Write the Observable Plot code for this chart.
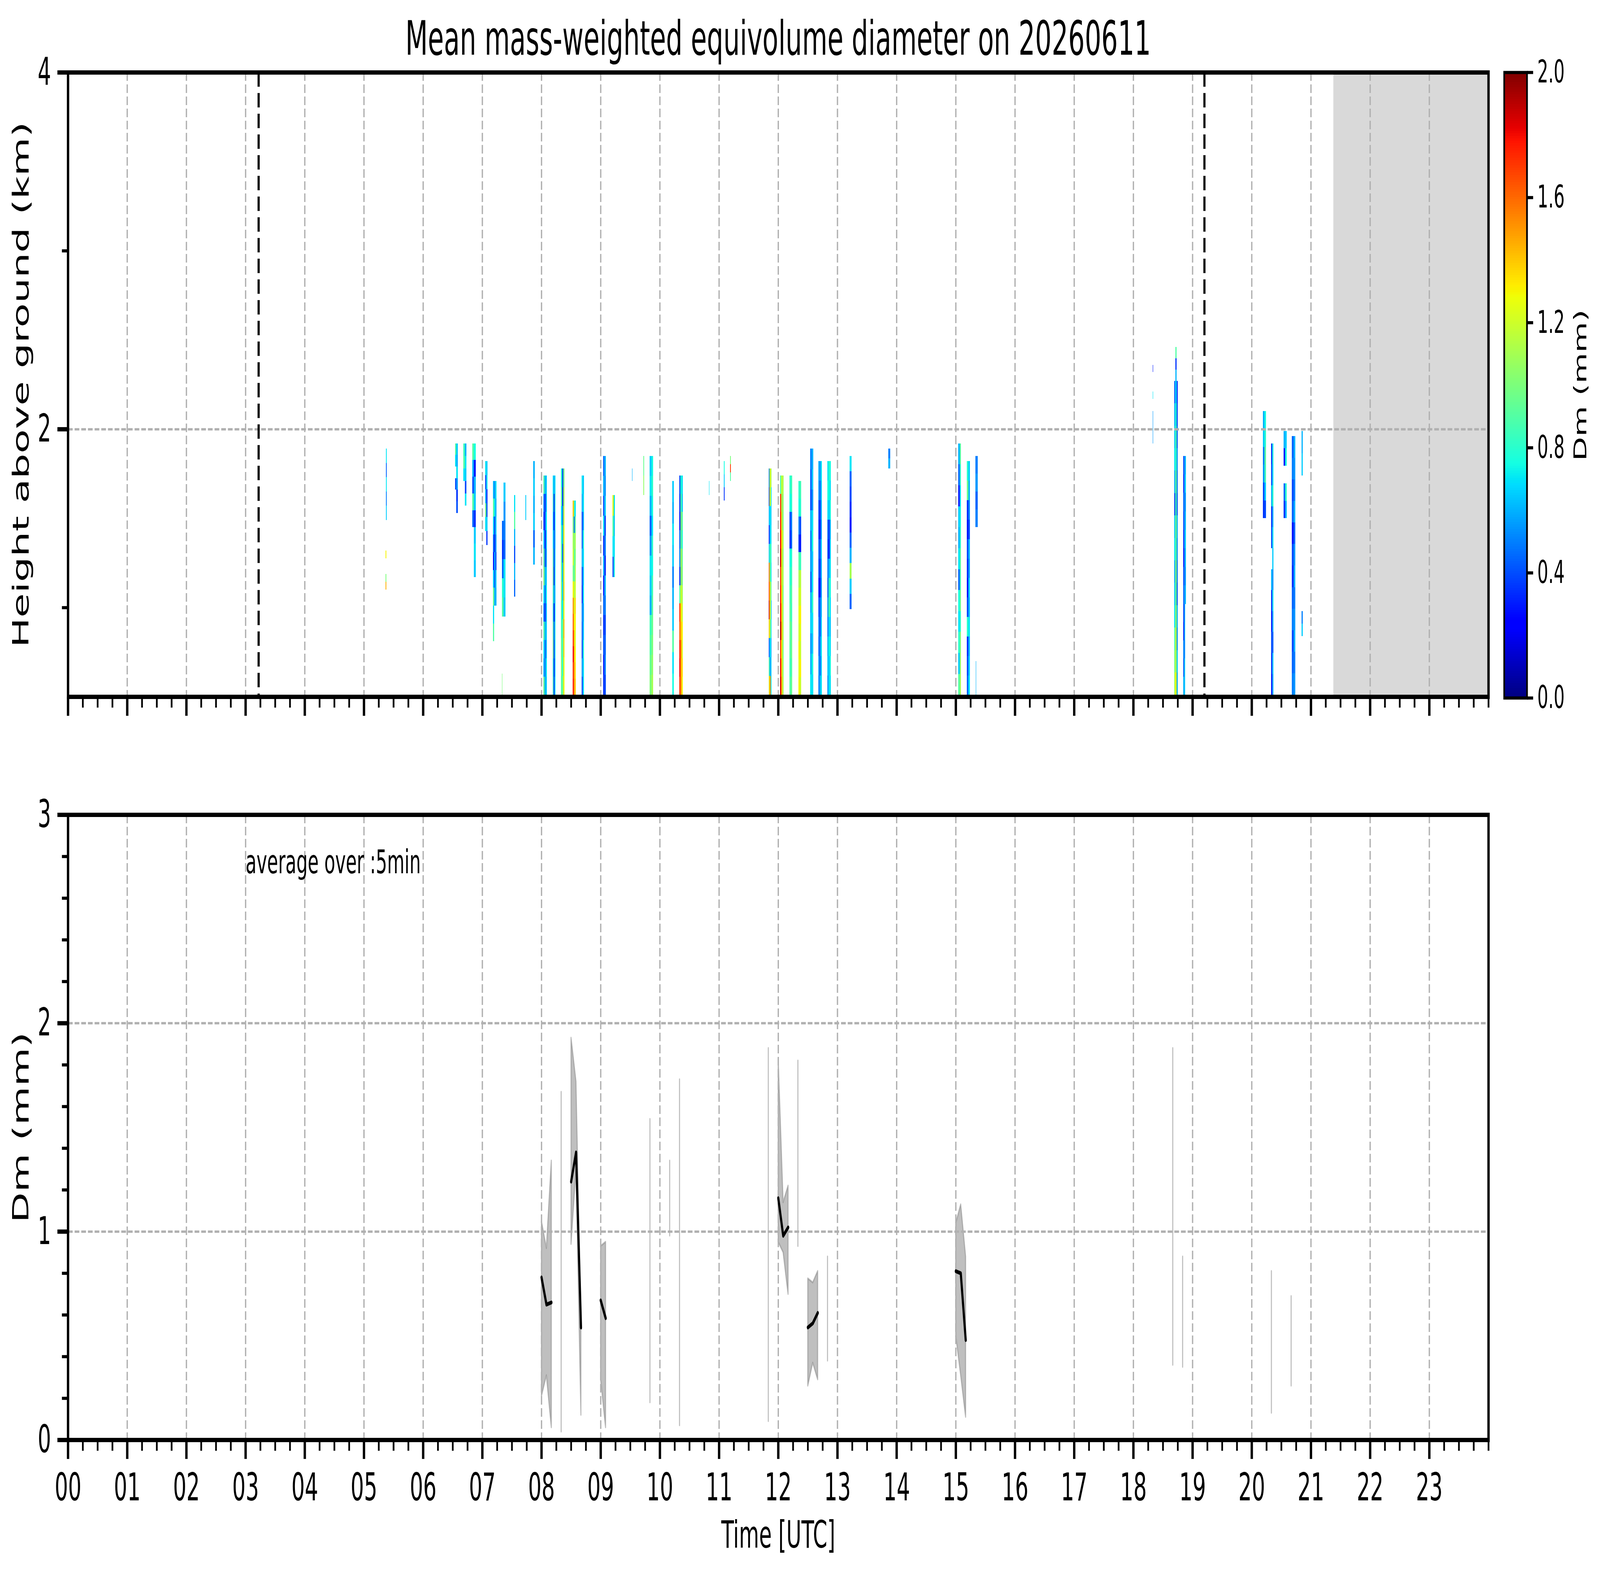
<!DOCTYPE html>
<html>
<head>
<meta charset="utf-8">
<script src="https://cdn.jsdelivr.net/npm/d3@7"></script>
<script src="https://cdn.jsdelivr.net/npm/@observablehq/plot@0.6"></script>
<style>
  html, body { margin: 0; padding: 0; background: #fff; overflow: hidden; }
  #wrap { position: relative; overflow: hidden; width: 7442px; height: 4031px; background: #fff; }
  #page { position: absolute; left: 0; top: 0; width: 7442px; height: 4031px; background: #fff; font-family: "DejaVu Sans", sans-serif; overflow: hidden; transform-origin: 0 0; }
  #page > .pane { position: absolute; }
  #title { position: absolute; left: 316px; width: 6607px; top: 38px; line-height: 121px; font-size: 121px; text-align: center; color: #000; white-space: nowrap; }
</style>
</head>
<body>
<div id="wrap">
<div id="page">
  <div id="title"></div>
</div>
</div>
<script>
// ---------------- DATA ----------------
const titleText = "Mean mass-weighted equivolume diameter on 20260611";
const hourTicks = d3.range(0, 24);                 // labelled hours 00..23
const hourLabels = hourTicks.map(h => String(h).padStart(2, "0"));
const heightTicks = [2, 4];
const heightMinor = [1, 3];
const dmTicks = [0, 1, 2, 3];
const cbarTicks = [0, 0.4, 0.8, 1.2, 1.6, 2.0];
const sunLines = [3.22, 19.2];                     // dashed black lines (UTC hours)
const noDataSpan = [21.38, 24];                    // grey shaded span (UTC hours)

// Radar strips: [start h, end h, bottom km, top km, columns of Dm values (top -> bottom)]
const strips = [
  [5.370, 5.385, 1.49, 1.89, [[0.70, 0.45, 0.70, 0.50, 0.65]]],
  [5.365, 5.380, 1.10, 1.32, [[1.30, null, null, 1.00, 1.45]]],
  [6.540, 6.585, 1.53, 1.92, [[0.90, 0.70, null, 0.40, null, null], [0.65, 0.60, 0.70, 0.55, 0.35, 0.40]]],
  [6.680, 6.730, 1.57, 1.92, [[0.85, 0.90, 0.70, null, null], [0.60, 0.70, 0.65, 0.40, 0.70]]],
  [6.830, 6.890, 1.17, 1.92, [[0.90, 0.60, 0.40, 0.90, 0.45, null, null, null], [0.75, 0.30, 0.60, 0.65, 0.35, 0.65, 0.70, 0.65]]],
  [7.050, 7.090, 1.35, 1.82, [[0.70, 0.40, 0.60, 0.95, 0.70, null], [0.65, 0.70, 0.35, 0.40, 0.65, 0.35]]],
  [7.180, 7.240, 0.81, 1.71, [[0.60, 0.90, 0.65, 0.45, 0.30, 0.65, 0.95, 0.70, 0.90], [0.55, 0.70, 0.40, 0.35, 0.60, 0.45, 0.60, null, null], [0.70, 0.60, 0.65, 0.55, 0.40, 0.65, 0.60, null, null]]],
  [7.330, 7.390, 0.95, 1.70, [[null, null, 0.45, 0.35, 0.45, 0.80, 0.90], [0.65, 0.55, 0.50, 0.45, 0.70, 0.70, 0.65]]],
  [7.330, 7.340, 0.51, 0.63, [[1.00]]],
  [7.540, 7.560, 1.06, 1.63, [[0.70, 0.90, 0.60, 0.40, 0.60, 0.45]]],
  [7.730, 7.740, 1.49, 1.63, [[0.65]]],
  [7.860, 7.890, 1.24, 1.82, [[0.60, 0.65, 0.60, 0.65, 0.45, 0.60]]],
  [8.030, 8.090, 0.51, 1.74, [[0.90, 0.50, 0.35, 0.65, 0.90, 1.00, 0.70, 0.50, 0.90, 0.70, 0.60, 0.95], [0.60, 0.35, 0.40, 0.30, 0.40, 0.60, 0.45, 0.35, 0.60, 0.45, 0.50, 0.60], [0.65, 0.60, 0.70, 0.60, 0.55, 0.65, 0.70, 0.60, 0.65, 0.60, 0.70, 0.65]]],
  [8.190, 8.240, 0.51, 1.74, [[0.70, 0.80, 0.65, 0.70, 0.85, 0.90, 0.85, 0.80, 0.90, 0.95, 0.80, 0.85], [0.60, 0.35, 0.30, 0.45, 0.40, 0.35, 0.55, 0.30, 0.45, 0.40, 0.35, 0.40], [0.70, 0.75, 0.70, 0.60, 0.65, 0.70, 0.65, 0.70, 0.75, 0.70, 0.65, 0.70]]],
  [8.330, 8.390, 0.51, 1.78, [[0.80, 0.90, 0.70, 0.85, 0.90, 0.95, 1.00, 0.90, 0.85, 0.95, 1.00, 0.90], [0.40, 0.35, 0.50, 0.60, 0.45, 0.60, 0.65, 0.70, 0.90, 0.85, 0.80, 0.95], [1.00, 1.10, 1.20, 1.30, 1.25, 1.30, 1.35, 1.30, 1.40, 1.35, 1.30, 1.30]]],
  [8.530, 8.580, 0.51, 1.60, [[1.40, 1.00, 1.10, 1.20, 1.00, 1.30, 1.50, 1.60, 1.70, 1.80, 1.70, 1.75], [0.90, 0.40, 1.00, 0.90, 0.85, 1.10, 1.20, 1.30, 1.40, 1.45, 1.50, 1.50], [0.70, 0.90, 1.10, 1.00, 1.10, 1.20, 1.35, 1.30, 1.25, 1.30, 1.35, 1.40]]],
  [8.680, 8.720, 0.51, 1.74, [[0.70, 0.60, 0.40, 0.45, 0.60, 0.40, 0.35, 0.50, 0.45, 0.40, 0.55, 0.40], [0.65, 0.70, 0.60, 0.75, 0.70, 0.65, 0.70, 0.60, 0.65, 0.75, 0.70, 0.70]]],
  [9.040, 9.090, 0.51, 1.85, [[0.45, 0.60, 0.40, 0.70, 0.35, 0.60, 0.30, 0.45, 0.35, 0.40, 0.30, 0.35], [0.60, 0.55, 0.65, 0.40, 0.50, 0.35, 0.60, 0.50, 0.40, 0.45, 0.50, 0.40]]],
  [9.200, 9.240, 1.17, 1.63, [[1.30, 0.90, 0.70, 0.40], [0.70, 0.65, 0.70, 0.75]]],
  [9.530, 9.535, 1.71, 1.78, [[0.60]]],
  [9.720, 9.735, 1.63, 1.85, [[0.95, 1.05]]],
  [9.830, 9.890, 0.51, 1.85, [[0.65, 0.70, 0.60, 0.45, 0.55, 0.70, 0.65, 0.60, 0.85, 0.90, 0.95, 1.00], [0.75, 0.80, 0.75, 0.70, 0.80, 0.75, 0.85, 0.90, 0.95, 1.00, 1.05, 1.10]]],
  [10.210, 10.240, 0.51, 1.71, [[0.65, 0.60, 0.70, 0.65, 0.50, 0.60, 0.65, 0.90, 0.70, 0.75]]],
  [10.330, 10.390, 0.51, 1.74, [[0.40, 0.35, 0.30, 0.45, 0.50, 0.35, 0.90, 1.70, 1.60, 1.75, 1.80, 1.70], [0.80, 0.90, 1.00, 0.95, 1.10, 1.05, 1.20, 1.30, 1.40, 1.50, 1.45, 1.50], [0.70, 0.65, 0.90, 0.80, 0.95, 1.00, 1.10, 1.20, 1.30, 1.25, 1.35, 1.30]]],
  [10.830, 10.840, 1.63, 1.71, [[0.70]]],
  [11.085, 11.095, 1.60, 1.82, [[0.75, 0.65, 0.35]]],
  [11.190, 11.200, 1.71, 1.85, [[1.00, 1.70, 0.90]]],
  [11.840, 11.890, 0.51, 1.78, [[0.50, 0.40, 0.60, 0.30, 0.65, 1.60, 1.70, 1.90, 1.40, 0.40, 0.90, 1.20], [1.20, 1.30, 0.70, 0.65, 0.90, 1.00, 1.20, 1.30, 1.10, 0.70, 0.60, 1.50], [1.10, 0.70, 0.65, 0.70, 0.75, 0.70, 0.90, 0.65, 0.70, 0.60, 0.65, 0.70]]],
  [12.030, 12.090, 0.51, 1.74, [[0.90, 1.70, 1.75, 1.80, 1.85, 1.70, 1.75, 1.80, 1.90, 1.70, 1.80, 1.85], [1.20, 1.10, 1.20, 1.30, 1.25, 1.20, 1.30, 1.35, 1.40, 1.30, 1.35, 1.40], [1.10, 1.05, 1.00, 1.10, 1.05, 1.10, 1.00, 1.05, 1.10, 1.00, 1.05, 1.10]]],
  [12.190, 12.240, 0.51, 1.74, [[0.80, 0.75, 0.40, 0.35, 0.75, 0.80, 0.85, 0.90, 0.95, 0.90, 0.85, 0.90], [0.85, 0.80, 0.50, 0.45, 0.80, 0.85, 0.90, 0.85, 0.90, 0.95, 0.90, 0.95]]],
  [12.340, 12.390, 0.51, 1.71, [[0.80, 0.75, 0.50, 0.35, 0.90, 1.10, 1.20, 1.25, 1.20, 1.30, 1.25, 1.30], [0.85, 0.80, 0.40, 0.30, 0.85, 1.15, 1.20, 1.30, 1.25, 1.20, 1.30, 1.20]]],
  [12.540, 12.590, 0.51, 1.89, [[0.50, 0.45, 0.40, 0.60, 0.50, 0.55, 0.45, 0.60, 0.65, 0.55, 0.60, 0.70], [0.60, 0.65, 0.55, 0.70, 0.75, 0.65, 0.70, 0.80, 0.70, 0.65, 0.75, 0.70]]],
  [12.680, 12.740, 0.51, 1.82, [[0.60, 0.55, 0.40, 0.35, 0.45, 0.40, 0.30, 0.40, 0.50, 0.45, 0.55, 0.50], [0.55, 0.45, 0.35, 0.30, 0.40, 0.35, 0.30, 0.45, 0.40, 0.50, 0.45, 0.60], [0.70, 0.65, 0.60, 0.55, 0.65, 0.60, 0.55, 0.60, 0.65, 0.70, 0.65, 0.70]]],
  [12.830, 12.890, 0.51, 1.82, [[0.70, 0.75, 0.70, 0.45, 0.40, 0.50, 0.45, 0.55, 0.50, 0.60, 0.65, 0.55], [0.80, 0.75, 0.65, 0.35, 0.30, 0.60, 0.85, 0.90, 0.70, 0.75, 0.65, 0.70], [0.75, 0.70, 0.75, 0.60, 0.65, 0.70, 0.75, 0.70, 0.65, 0.70, 0.75, 0.70]]],
  [13.210, 13.240, 0.99, 1.85, [[0.70, 0.45, 0.40, 0.35, 0.30, 0.45, 0.60, 1.10, 0.65, 0.45]]],
  [13.860, 13.890, 1.78, 1.89, [[0.50, 0.60]]],
  [15.040, 15.090, 0.51, 1.92, [[0.60, 0.45, 0.30, 0.65, 0.60, 0.70, 0.45, 0.75, 0.70, 0.80, 0.65, 0.90], [0.90, 0.80, 0.70, 0.75, 0.80, 0.90, 0.85, 0.95, 0.80, 1.00, 1.05, 1.10]]],
  [15.190, 15.240, 0.51, 1.82, [[0.80, 0.95, 0.35, 0.30, 0.40, 0.35, 0.30, 0.40, 0.80, 0.35, 0.40, 0.45], [0.65, 0.60, 0.50, 0.40, 0.60, 0.55, 0.65, 0.60, 0.70, 0.60, 0.65, 0.70]]],
  [15.330, 15.370, 1.45, 1.85, [[0.50, 0.55, 0.45, 0.50]]],
  [15.340, 15.345, 0.51, 0.70, [[0.60]]],
  [18.330, 18.335, 2.32, 2.36, [[0.30]]],
  [18.330, 18.335, 2.17, 2.21, [[0.70]]],
  [18.330, 18.335, 1.92, 2.10, [[0.55]]],
  [18.710, 18.730, 2.27, 2.46, [[0.90, 0.35, 0.60]]],
  [18.690, 18.750, 0.51, 2.27, [[0.45, 0.60, 0.65, 0.70, 0.60, 0.40, 0.65, 0.70, 0.60, 0.65, 0.70, 0.90, 1.00, 1.10], [0.70, 0.80, 0.90, 0.85, 0.95, 0.90, 1.00, 0.95, 1.05, 1.00, 1.10, 1.20, 1.15, 1.30], [0.35, 0.40, 0.45, 0.55, 0.50, 0.45, 0.60, 0.55, 0.50, 0.45, 0.60, 0.55, 0.65, 0.60]]],
  [18.840, 18.890, 1.02, 1.85, [[0.40, 0.35, 0.45, 0.40, 0.35, 0.30, 0.40, 0.45], [0.60, 0.65, 0.55, 0.60, 0.65, 0.60, 0.55, 0.60]]],
  [18.845, 18.875, 0.51, 1.02, [[0.40, 0.35, 0.50, 0.45, 0.60], [0.60, 0.65, 0.55, 0.70, 0.65]]],
  [20.190, 20.240, 1.50, 2.10, [[0.60, 0.65, 0.50, 0.55, 0.40, 0.35], [0.75, 0.80, 0.90, 0.85, 0.65, 0.40]]],
  [20.345, 20.350, 2.10, 2.14, [[0.40]]],
  [20.330, 20.370, 0.51, 1.92, [[0.35, 0.40, 0.60, 0.35, 0.40, null, 0.60, 0.35, 0.30, 0.40, 0.35, 0.30], [0.75, 0.70, 0.80, 0.60, 0.70, 0.65, 0.55, 0.70, 0.60, 0.45, 0.65, 0.60]]],
  [20.540, 20.590, 1.50, 1.99, [[0.60, 0.30, null, 0.45, 0.35], [0.65, 0.75, null, 0.80, 0.60]]],
  [20.680, 20.740, 0.51, 1.96, [[0.45, 0.50, 0.40, 0.45, 0.30, 0.40, 0.35, 0.45, 0.50, 0.40, 0.45, 0.50], [0.60, 0.55, 0.50, 0.60, 0.45, 0.55, 0.60, 0.50, 0.55, 0.60, 0.50, 0.55]]],
  [20.840, 20.860, 1.74, 1.99, [[0.60, 0.65]]],
  [20.840, 20.860, 0.84, 0.98, [[0.50, 0.65]]]
];

// 5-minute averages (minutes after 00 UTC): mean, min and max Dm (mm)
const binMinute = [480, 485, 490, 500, 510, 515, 520, 540, 545, 590, 610, 620, 710, 720, 725, 730, 740, 750, 755, 760, 770, 900, 905, 910, 1120, 1130, 1220, 1240];
const binMean   = [0.78, 0.65, 0.66, null, 1.24, 1.38, 0.54, 0.67, 0.585, null, null, null, null, 1.16, 0.98, 1.02, null, 0.54, 0.56, 0.61, null, 0.81, 0.80, 0.48, null, null, null, null];
const binLo     = [0.21, 0.31, 0.06, 0.04, 0.94, 1.30, 0.12, 0.29, 0.06, 0.18, 0.98, 0.07, 0.09, 0.95, 0.90, 0.70, 0.93, 0.26, 0.37, 0.29, 0.38, 0.50, 0.31, 0.11, 0.36, 0.35, 0.13, 0.26];
const binHi     = [1.05, 0.92, 1.34, 1.67, 1.93, 1.72, 0.56, 0.93, 0.95, 1.54, 1.34, 1.73, 1.88, 1.83, 1.14, 1.22, 1.82, 0.775, 0.755, 0.81, 0.88, 1.04, 1.13, 0.88, 1.88, 0.88, 0.81, 0.69];
const annotation = "average over :5min";

// ---------------- HELPERS ----------------
function jet(t) {
  t = Math.max(0, Math.min(1, t));
  const r = t < 0.35 ? 0 : t < 0.66 ? (t - 0.35) / 0.31 : t < 0.89 ? 1 : 1 - 0.5 * (t - 0.89) / 0.11;
  const g = t < 0.125 ? 0 : t < 0.375 ? (t - 0.125) / 0.25 : t < 0.64 ? 1 : t < 0.91 ? 1 - (t - 0.64) / 0.27 : 0;
  const b = t < 0.11 ? 0.5 + 0.5 * t / 0.11 : t < 0.34 ? 1 : t < 0.65 ? 1 - (t - 0.34) / 0.31 : 0;
  return `rgb(${Math.round(r * 255)},${Math.round(g * 255)},${Math.round(b * 255)})`;
}
const colorScale = {type: "linear", domain: [0, 2], interpolate: jet, clamp: true};

const cells = [];
for (const [t0, t1, h0, h1, cols] of strips) {
  const w = (t1 - t0) / cols.length;
  cols.forEach((col, i) => {
    const dh = (h1 - h0) / col.length;
    col.forEach((v, j) => {
      if (v == null) return;
      cells.push({x1: t0 + i * w, x2: t0 + (i + 1) * w, y1: h1 - (j + 1) * dh, y2: h1 - j * dh, v});
    });
  });
}

let grp = 0;
const bins = binMinute.map((m, i) => {
  if (i > 0 && m - binMinute[i - 1] > 5) grp++;
  return {t: m / 60, mean: binMean[i], lo: binLo[i], hi: binHi[i], g: grp};
});

document.getElementById("title").textContent = titleText;

const FONT = "DejaVu Sans";
const gridStyle = {stroke: "#b0b0b0", strokeWidth: 6, strokeDasharray: "22,9"};
const minorHours = d3.range(0, 24.001, 0.25).filter(h => Math.abs(h - Math.round(h)) > 1e-6 || h === 24);

function place(svg, left, topPx) {
  svg.classList.add("pane");
  svg.style.left = left + "px";
  svg.style.top = topPx + "px";
  document.getElementById("page").appendChild(svg);
}

// ---------------- TOP PANEL ----------------
const radarPlot = Plot.plot({
  width: 6990, height: 1950,
  marginLeft: 316, marginRight: 67, marginTop: 185, marginBottom: 167,
  style: {fontFamily: FONT, fontSize: "98px", background: "transparent", overflow: "visible", color: "black"},
  x: {domain: [0, 24]},
  y: {domain: [0.5, 4]},
  color: colorScale,
  marks: [
    Plot.rect([noDataSpan], {x1: d => d[0], x2: d => d[1], y1: 0.5, y2: 4, fill: "#d9d9d9"}),
    Plot.rect(cells, {x1: "x1", x2: "x2", y1: "y1", y2: "y2", fill: "v", shapeRendering: "crispEdges"}),
    Plot.ruleX(d3.range(1, 24), gridStyle),
    Plot.ruleY([2], gridStyle),
    Plot.ruleX(sunLines, {stroke: "black", strokeWidth: 10, strokeDasharray: "37,16"}),
    Plot.axisX({anchor: "bottom", ticks: hourTicks, tickSize: 49, strokeWidth: 11, tickFormat: () => "", label: null}),
    Plot.axisX({anchor: "bottom", ticks: minorHours, tickSize: 28, strokeWidth: 8, tickFormat: () => "", label: null}),
    Plot.axisY({anchor: "left", ticks: heightTicks, tickSize: 49, strokeWidth: 11, tickPadding: 30, fontSize: 98, tickFormat: d => String(d), label: null}),
    Plot.axisY({anchor: "left", ticks: heightMinor, tickSize: 28, strokeWidth: 8, tickFormat: () => "", label: null}),
    Plot.text(["Height above ground (km)"], {text: d => d, frameAnchor: "left", textAnchor: "middle", lineAnchor: "middle", rotate: -90, dx: -216, fontSize: 102}),
    Plot.frame({stroke: "black", strokeWidth: 11})
  ]
});
place(radarPlot, 0, 0);

// ---------------- COLORBAR ----------------
const cbarCells = d3.range(0, 256).map(i => ({y1: i * 2 / 256, y2: (i + 1) * 2 / 256, v: (i + 0.5) * 2 / 256}));
const cbarPlot = Plot.plot({
  width: 452, height: 1950,
  marginLeft: 6, marginRight: 340, marginTop: 185, marginBottom: 164,
  style: {fontFamily: FONT, fontSize: "80px", background: "transparent", overflow: "visible", color: "black"},
  x: {domain: [0, 1], axis: null},
  y: {domain: [0, 2]},
  color: colorScale,
  marks: [
    Plot.rect(cbarCells, {x1: 0, x2: 1, y1: "y1", y2: "y2", fill: "v", shapeRendering: "crispEdges"}),
    Plot.axisY({anchor: "right", ticks: cbarTicks, tickSize: 28, strokeWidth: 8, tickPadding: 20, fontSize: 80, tickFormat: d3.format(".1f"), label: null}),
    Plot.text(["Dm (mm)"], {text: d => d, frameAnchor: "right", textAnchor: "middle", lineAnchor: "middle", rotate: -90, dx: 250, fontSize: 81}),
    Plot.frame({stroke: "black", strokeWidth: 8})
  ]
});
place(cbarPlot, 6990, 0);

// ---------------- BOTTOM PANEL ----------------
const dmPlot = Plot.plot({
  width: 6990, height: 2081,
  marginLeft: 316, marginRight: 67, marginTop: 135, marginBottom: 346,
  style: {fontFamily: FONT, fontSize: "98px", background: "transparent", overflow: "visible", color: "black"},
  x: {domain: [0, 24]},
  y: {domain: [0, 3]},
  marks: [
    Plot.areaY(bins, {x: "t", y1: "lo", y2: "hi", z: "g", fill: "gray", fillOpacity: 0.5, stroke: "gray", strokeOpacity: 0.5, strokeWidth: 5}),
    Plot.ruleX(d3.range(1, 24), gridStyle),
    Plot.ruleY([1, 2], gridStyle),
    Plot.line(bins, {x: "t", y: "mean", z: "g", stroke: "black", strokeWidth: 10}),
    Plot.text([annotation], {text: d => d, x: 3.0, y: 2.72, textAnchor: "start", lineAnchor: "bottom", fontSize: 83}),
    Plot.axisX({anchor: "bottom", ticks: hourTicks, tickSize: 49, strokeWidth: 11, tickPadding: 36, fontSize: 98, tickFormat: d => hourLabels[d], label: null}),
    Plot.axisX({anchor: "bottom", ticks: minorHours, tickSize: 28, strokeWidth: 8, tickFormat: () => "", label: null}),
    Plot.axisY({anchor: "left", ticks: dmTicks, tickSize: 49, strokeWidth: 11, tickPadding: 30, fontSize: 98, tickFormat: d => String(d), label: null}),
    Plot.axisY({anchor: "left", ticks: d3.range(0.2, 3, 0.2).filter(v => Math.abs(v - Math.round(v)) > 1e-6), tickSize: 28, strokeWidth: 8, tickFormat: () => "", label: null}),
    Plot.text(["Dm (mm)"], {text: d => d, frameAnchor: "left", textAnchor: "middle", lineAnchor: "middle", rotate: -90, dx: -216, fontSize: 102}),
    Plot.text(["Time [UTC]"], {text: d => d, frameAnchor: "bottom", textAnchor: "middle", lineAnchor: "middle", dy: 245, fontSize: 96}),
    Plot.frame({stroke: "black", strokeWidth: 11})
  ]
});
place(dmPlot, 0, 1950);

// The window may be narrower than the 7442x4031 design (browsers cap the width);
// map the design onto the whole viewport so the photographed frame covers the same area.
function fit() {
  const W = window.innerWidth, H = window.innerHeight;
  const sx = W / 7442, sy = H / 4031;
  const page = document.getElementById("page");
  const wrap = document.getElementById("wrap");
  wrap.style.width = W + "px";
  wrap.style.height = H + "px";
  page.style.transform = (Math.abs(sx - 1) > 0.001 || Math.abs(sy - 1) > 0.001) ? `scale(${sx}, ${sy})` : "none";
}
fit();
window.addEventListener("resize", fit);
</script>
</body>
</html>
